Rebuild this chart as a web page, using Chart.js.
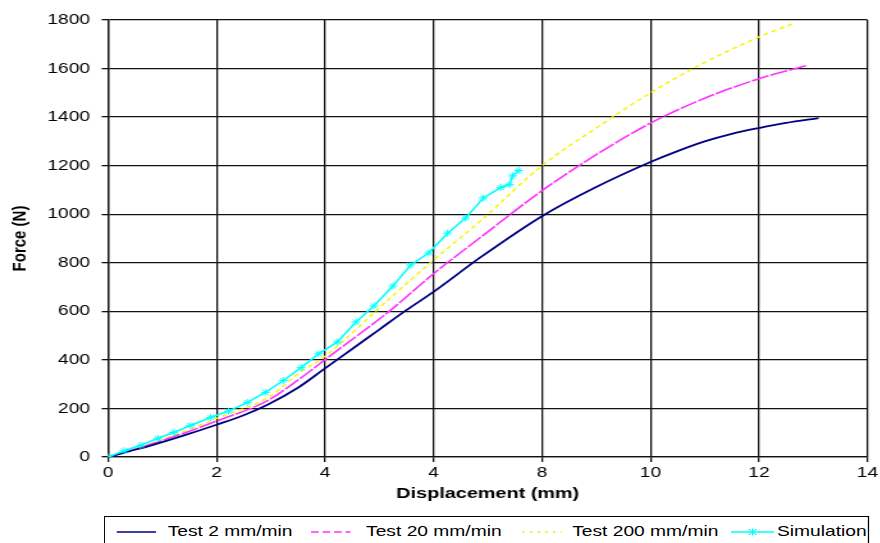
<!DOCTYPE html>
<html>
<head>
<meta charset="utf-8">
<script src="https://cdn.jsdelivr.net/npm/chart.js@4"></script>
<style>
  body { margin: 0; background: #fff; overflow: hidden; }
  #wrap { position: absolute; left: 0; top: 0; width: 688px; height: 543px; transform: scaleX(1.28); transform-origin: 0 0; }
  #legend { position: absolute; left: 81px; top: 516px; width: 596px; height: 40px; border: 1px solid #000; background: #fff;
    font: 15px "Liberation Sans", Arial, sans-serif; color: #000; }
  #legend span, #legend svg { position: absolute; }
  #legend span { top: 5px; white-space: nowrap; }
  #legend svg { top: 8px; }
</style>
</head>
<body>
<div id="wrap">
  <canvas id="chart" width="688" height="543"></canvas>
  <div id="legend"></div>
</div>
<script>
// values (displacement mm / force N)
const test2X = [0, 0.4, 0.8, 1.4, 2, 2.5, 2.94, 3.5, 4, 4.5, 5, 5.5, 6, 6.87, 8, 9, 10, 10.5, 11, 11.5, 12, 12.5, 13.1];
const test2Y = [0, 24, 48, 89, 133, 172, 215, 285, 365, 445, 525, 605, 680, 823, 992, 1112, 1215, 1260, 1300, 1331, 1355, 1376, 1396];

const test20X = [0, 0.5, 1, 1.5, 2, 2.94, 3.55, 4, 5.21, 6, 6.87, 8, 9, 10, 11, 12, 12.5, 12.9];
const test20Y = [0, 32, 68, 106, 148, 232, 325, 401, 605, 755, 905, 1097, 1245, 1375, 1478, 1558, 1590, 1613];

const test200X = [0, 0.5, 1, 1.5, 2, 2.94, 3.55, 4, 5.2, 6, 6.87, 8, 9, 10, 11, 12, 12.63];
const test200Y = [0, 34, 72, 114, 159, 244, 350, 415, 654, 811, 973, 1200, 1355, 1500, 1625, 1730, 1785];

const simX = [0, 0.3, 0.6, 0.92, 1.21, 1.52, 1.89, 2.22, 2.57, 2.9, 3.23, 3.56, 3.88, 4.23, 4.57, 4.9, 5.25, 5.58, 5.91, 6.26, 6.59, 6.92, 7.24, 7.4, 7.46, 7.57];
const simY = [0, 26, 48, 77, 101, 130, 163, 189, 225, 266, 315, 368, 425, 474, 556, 622, 704, 791, 840, 922, 984, 1067, 1110, 1122, 1158, 1180];

const seriesNames = ['Test 2 mm/min', 'Test 20 mm/min', 'Test 200 mm/min', 'Simulation'];
const xTickLabels = ['0', '2', '4', '4', '8', '10', '12', '14'];
const yTickLabels = ['0', '200', '400', '600', '800', '1000', '1200', '1400', '1600', '1800'];

const pts = (xs, ys) => xs.map((x, i) => ({ x: x, y: ys[i] }));

const FONT = '"Liberation Sans", Arial, sans-serif';
Chart.defaults.color = '#000';
Chart.defaults.font.family = FONT;

new Chart(document.getElementById('chart'), {
    type: 'line',
    data: {
        datasets: [
            { label: seriesNames[3], data: pts(simX, simY), borderColor: '#00ffff', backgroundColor: '#00ffff',
              borderWidth: 1.6, pointStyle: 'star', pointRadius: 3.5, pointBorderWidth: 1, tension: 0, order: 1 },
            { label: seriesNames[0], data: pts(test2X, test2Y), borderColor: '#000080', borderWidth: 1.8,
              pointRadius: 0, cubicInterpolationMode: 'monotone', order: 2 },
            { label: seriesNames[1], data: pts(test20X, test20Y), borderColor: '#ff33ff', borderWidth: 1.6,
              borderDash: [14, 1.5], pointRadius: 0, cubicInterpolationMode: 'monotone', order: 3 },
            { label: seriesNames[2], data: pts(test200X, test200Y), borderColor: '#f5f500', borderWidth: 1.5,
              borderDash: [4, 3], pointRadius: 0, cubicInterpolationMode: 'monotone', order: 4 }
        ]
    },
    options: {
        responsive: false,
        animation: false,
        layout: { padding: { top: 20, right: 10, bottom: 40, left: 0 } },
        plugins: { legend: { display: false }, tooltip: { enabled: false } },
        scales: {
            x: {
                type: 'linear', min: 0, max: 14,
                afterFit: (s) => { s.height = 46; },
                border: { color: '#111', width: 1.3 },
                grid: { color: '#111', lineWidth: 1.3, tickLength: 5, tickColor: '#111' },
                ticks: { stepSize: 2, padding: 2, maxRotation: 0, autoSkip: false, font: { size: 15 },
                         callback: (v, i) => xTickLabels[i] },
                title: { display: true, text: 'Displacement (mm)', font: { size: 15.5, weight: 'bold' }, padding: { top: 0, bottom: 0 } }
            },
            y: {
                min: 0, max: 1800,
                afterFit: (s) => { s.width = 84.4; },
                border: { color: '#111', width: 1.3 },
                grid: { color: '#111', lineWidth: 1.3, tickLength: 5, tickColor: '#111' },
                ticks: { stepSize: 200, padding: 9, font: { size: 15 }, callback: (v, i) => yTickLabels[i] },
                title: { display: true, text: 'Force (N)', font: { size: 15, weight: 'bold' }, padding: { top: 6.5, bottom: 0 } }
            }
        }
    }
});

// legend box under the plot
const legendItems = [
    { name: seriesNames[0], color: '#000080', dash: '', x: 9, tx: 49 },
    { name: seriesNames[1], color: '#ff33ff', dash: '6 3', x: 161, tx: 204 },
    { name: seriesNames[2], color: '#f0f000', dash: '2 4', x: 326, tx: 365 },
    { name: seriesNames[3], color: '#00ffff', dash: '', x: 489, tx: 525, star: true }
];
const legend = document.getElementById('legend');
legendItems.forEach((it) => {
    const w = it.star ? 34 : 31;
    let svg = `<svg width="${w}" height="14" style="left:${it.x}px"><line x1="0" y1="7" x2="${w}" y2="7" stroke="${it.color}" stroke-width="1.6" stroke-dasharray="${it.dash}"/>`;
    if (it.star) {
        const c = w / 2;
        svg += `<path d="M${c - 3} 4L${c + 3} 10M${c + 3} 4L${c - 3} 10M${c} 3.5L${c} 10.5" stroke="${it.color}" stroke-width="1"/>`;
    }
    svg += '</svg>';
    legend.insertAdjacentHTML('beforeend', svg + `<span style="left:${it.tx}px">${it.name}</span>`);
});
</script>
</body>
</html>
